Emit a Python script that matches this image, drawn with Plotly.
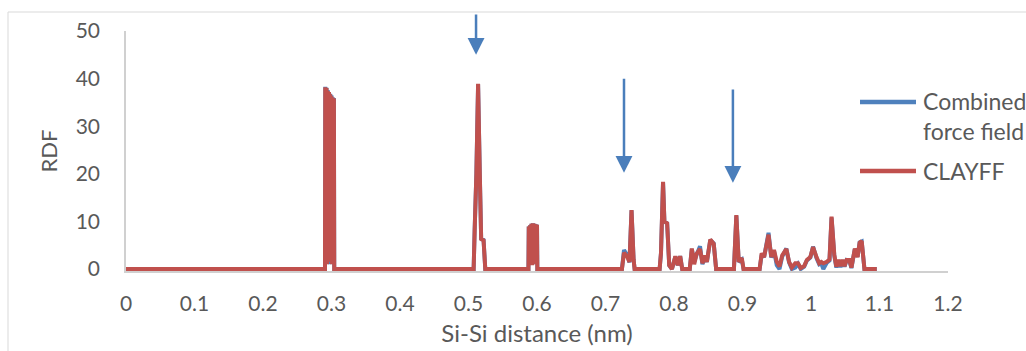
import plotly.graph_objects as go

# Si-Si radial distribution function, two force fields
distance_nm = [
    0.000, 0.2890,
    0.2905, 0.2909, 0.2918, 0.2927, 0.2936, 0.2945, 0.2954, 0.2963, 0.2972,
    0.2981, 0.2990, 0.2999, 0.3008, 0.3017, 0.3026, 0.3035, 0.3040,
    0.5060, 0.5075, 0.5090, 0.5115, 0.5140, 0.5165, 0.5185, 0.5220, 0.5245,
    0.5875, 0.5880, 0.5890, 0.5900, 0.5910, 0.5920, 0.5930, 0.5940, 0.5950,
    0.5960, 0.5970, 0.5980, 0.5990, 0.6000, 0.6005,
    0.7240, 0.7270, 0.7320, 0.7350, 0.7380, 0.7410, 0.7425,
    0.7790, 0.7810, 0.7840, 0.7860, 0.7900, 0.7930, 0.7970, 0.8020, 0.8055,
    0.8090, 0.8120,
    0.8230, 0.8260, 0.8295, 0.8330, 0.8380, 0.8415, 0.8450, 0.8480, 0.8530,
    0.8580, 0.8615,
    0.8875, 0.8910, 0.8945, 0.8990, 0.9015,
    0.9250, 0.9280, 0.9315, 0.9380, 0.9420, 0.9460, 0.9500, 0.9540, 0.9580,
    0.9640, 0.9680, 0.9720, 0.9770, 0.9810, 0.9850, 0.9900, 0.9940, 0.9990,
    1.0030, 1.0080, 1.0120, 1.0150, 1.0180, 1.0230, 1.0270, 1.0300, 1.0340,
    1.0370, 1.0400, 1.0430, 1.0460, 1.0490, 1.0520, 1.0560, 1.0590, 1.0640,
    1.0680, 1.0710, 1.0740, 1.0780, 1.0960,
]

rdf_combined = [
    0.0, 0.0,
    0.0, 38.3, 1.5, 38.1, 1.8, 37.6, 2.2, 37.0, 1.0,
    36.8, 2.0, 36.5, 1.4, 36.1, 1.2, 35.9, 0.0,
    0.0, 0.0, 8.3, 20.0, 38.8, 20.0, 6.4, 6.1, 0.0,
    0.0, 8.9, 1.4, 9.2, 2.1, 9.5, 0.9, 9.6, 1.3,
    9.5, 2.0, 9.4, 1.1, 9.3, 0.0,
    0.0, 4.0, 2.8, 1.4, 12.3, 2.0, 0.0,
    0.0, 3.3, 18.2, 10.0, 9.6, 0.8, 0.0, 2.6, 0.8,
    2.7, 0.0,
    0.0, 4.2, 1.5, 3.0, 4.8, 1.0, 2.6, 1.5, 6.1,
    5.4, 0.0,
    0.0, 11.2, 1.5, 2.0, 0.0,
    0.0, 3.0, 2.5, 7.6, 2.4, 3.8, 0.8, 0.0, 2.6,
    4.3, 1.4, 0.0, 0.3, 1.1, 0.0, 0.5, 1.8, 2.4,
    4.7, 2.3, 1.0, 1.2, 0.0, 1.3, 1.8, 10.8, 2.8,
    0.3, 1.8, 0.4, 1.8, 0.5, 1.9, 1.7, 0.2, 4.2,
    2.6, 5.6, 5.8, 0.0, 0.0,
]

rdf_clayff = [
    0.0, 0.0,
    0.0, 38.2, 2.0, 38.0, 1.0, 37.4, 3.0, 37.2, 1.5,
    36.7, 2.5, 36.3, 1.0, 36.0, 1.5, 35.8, 0.0,
    0.0, 0.0, 8.2, 20.0, 38.9, 20.0, 6.3, 6.0, 0.0,
    0.0, 8.9, 1.5, 9.2, 2.0, 9.5, 0.8, 9.6, 1.2,
    9.5, 2.0, 9.4, 1.0, 9.3, 0.0,
    0.0, 3.4, 2.5, 1.5, 12.4, 2.0, 0.0,
    0.0, 3.4, 18.3, 10.0, 9.6, 0.8, 0.0, 2.7, 0.8,
    2.7, 0.0,
    0.0, 4.3, 1.0, 3.2, 4.2, 1.2, 2.8, 1.5, 6.2,
    5.3, 0.0,
    0.0, 11.3, 1.5, 2.3, 0.0,
    0.0, 3.3, 2.5, 7.2, 2.5, 4.0, 1.5, 0.5, 2.9,
    4.2, 1.5, 0.3, 1.2, 1.2, 0.2, 0.6, 1.9, 2.5,
    4.6, 2.5, 1.2, 1.5, 1.2, 1.5, 2.0, 11.0, 3.0,
    0.5, 1.9, 0.6, 1.9, 0.6, 1.9, 1.9, 0.3, 4.3,
    2.5, 5.5, 5.9, 0.0, 0.0,
]

series_names = ["Combined<br>force field", "CLAYFF"]
x_ticks = [0, 0.1, 0.2, 0.3, 0.4, 0.5, 0.6, 0.7, 0.8, 0.9, 1.0, 1.1, 1.2]
x_tick_labels = ["0", "0.1", "0.2", "0.3", "0.4", "0.5", "0.6", "0.7", "0.8",
                 "0.9", "1", "1.1", "1.2"]
y_ticks = [0, 10, 20, 30, 40, 50]

# arrows marking peaks: x position, tail height, head height
arrow_x = [0.511, 0.727, 0.886]
arrow_tail = [53.8, 40.3, 38.0]
arrow_head = [45.0, 20.2, 18.1]

BLUE = "#4f81bd"
RED = "#c0504d"
ARROW = "#4a7ebb"
TEXT = "#595959"
AXIS = "#d0d0d0"
FONT = "Lato, Open Sans, sans-serif"

W, H = 1026, 351
M_L, M_R, M_T, M_B = 126, 78, 31, 80
PW, PH = W - M_L - M_R, H - M_T - M_B


def px_to_paper_x(px):
    return (px - M_L) / PW


def px_to_paper_y(py):
    return (H - M_B - py) / PH


fig = go.Figure()
fig.add_trace(go.Scatter(x=distance_nm, y=rdf_combined, mode="lines",
                         line=dict(color=BLUE, width=4, simplify=False),
                         showlegend=False, name="Combined force field"))
fig.add_trace(go.Scatter(x=distance_nm, y=rdf_clayff, mode="lines",
                         line=dict(color=RED, width=4, simplify=False),
                         showlegend=False, name="CLAYFF"))

annotations = []
for xa, yt, yh in zip(arrow_x, arrow_tail, arrow_head):
    annotations.append(dict(
        x=xa, y=yh, ax=xa, ay=yt, xref="x", yref="y", axref="x", ayref="y",
        text="", showarrow=True, arrowhead=2, arrowsize=1.35, arrowwidth=2.5,
        arrowcolor=ARROW, standoff=0,
    ))

# hand-built legend
legend_rows = [(102, BLUE, series_names[0], 116), (171, RED, series_names[1], 171)]
shapes = []
for y_line, col, label, y_text in legend_rows:
    shapes.append(dict(type="line", xref="paper", yref="paper",
                       x0=px_to_paper_x(860), x1=px_to_paper_x(916),
                       y0=px_to_paper_y(y_line), y1=px_to_paper_y(y_line),
                       line=dict(color=col, width=4.5)))
    annotations.append(dict(
        x=px_to_paper_x(921), y=px_to_paper_y(y_text), xref="paper", yref="paper",
        text=label, showarrow=False, xanchor="left", yanchor="middle", align="left",
        font=dict(family=FONT, size=23, color=TEXT),
    ))

# chart frame
shapes.append(dict(type="rect", xref="paper", yref="paper",
                   x0=px_to_paper_x(8), x1=px_to_paper_x(1040),
                   y0=px_to_paper_y(360), y1=px_to_paper_y(12),
                   line=dict(color="#d9d9d9", width=1), fillcolor="rgba(0,0,0,0)",
                   layer="below"))

fig.update_layout(
    width=W, height=H,
    margin=dict(l=M_L, r=M_R, t=M_T, b=M_B, autoexpand=False),
    paper_bgcolor="white", plot_bgcolor="white",
    font=dict(family=FONT, size=21, color=TEXT),
    shapes=shapes, annotations=annotations,
    xaxis=dict(
        range=[0, 1.2], tickvals=x_ticks, ticktext=x_tick_labels,
        showgrid=False, zeroline=False, showline=True, linecolor=AXIS,
        linewidth=1.5, ticks="", ticklabelstandoff=13,
        tickfont=dict(size=21, color=TEXT),
        title=dict(text="Si-Si distance (nm)", standoff=11,
                   font=dict(size=24, color=TEXT)),
    ),
    yaxis=dict(
        range=[-(PH - 238) / 4.76, 50], tickvals=y_ticks,
        showgrid=False, zeroline=False, showline=True, linecolor=AXIS,
        linewidth=1.5, ticks="", ticklabelstandoff=20,
        tickfont=dict(size=21, color=TEXT),
        title=dict(text="RDF", standoff=12, font=dict(size=22, color=TEXT)),
    ),
)

fig.write_html("out.html")
